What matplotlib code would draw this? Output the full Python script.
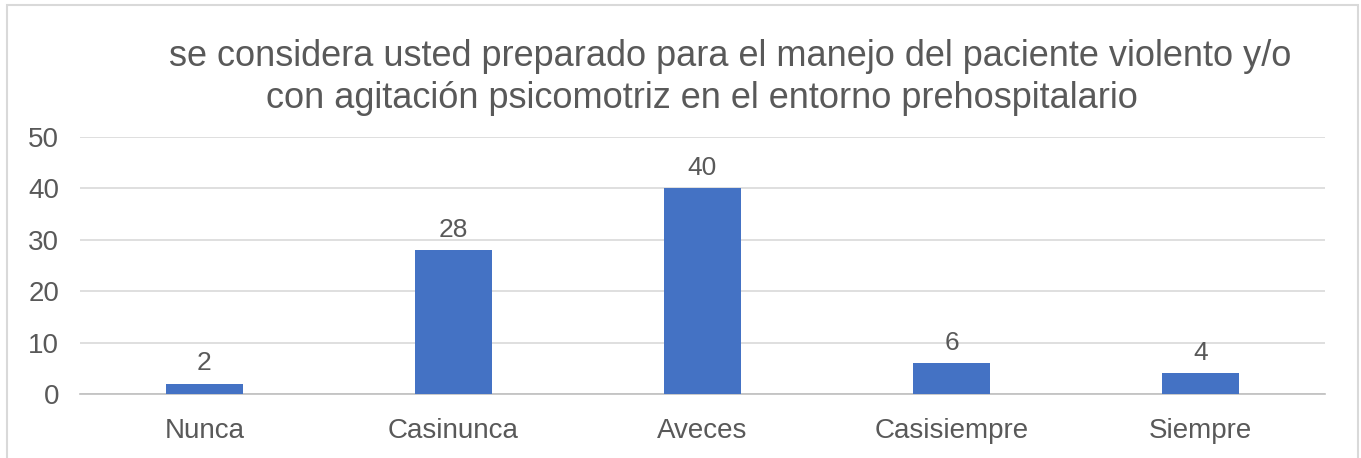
import matplotlib.pyplot as plt
from matplotlib.patches import Rectangle

categories = ['Nunca', 'Casinunca', 'Aveces', 'Casisiempre', 'Siempre']
counts = [2, 28, 40, 6, 4]
yticks = [0, 10, 20, 30, 40, 50]
title_lines = ['se considera usted preparado para el manejo del paciente violento y/o',
               'con agitación psicomotriz en el entorno prehospitalario']

plt.rcParams['font.family'] = ['Liberation Sans', 'DejaVu Sans']
text_color = '#595959'
bar_color = '#4472C4'

W, H = 1361, 458
fig = plt.figure(figsize=(W / 100, H / 100), dpi=100)

# thin gray frame round the chart area
fig.add_artist(Rectangle((7 / W, -0.05), (1358 - 7) / W, 1.05 - 5 / H,
                         transform=fig.transFigure, fill=False,
                         edgecolor='#d9d9d9', linewidth=1.5))

ax = fig.add_axes([80 / W, (H - 394) / H, 1245 / W, (394 - 137) / H])
x = range(len(categories))
bars = ax.bar(x, counts, width=0.31, color=bar_color, zorder=3)

for rect, v in zip(bars, counts):
    ax.annotate(str(v), (rect.get_x() + rect.get_width() / 2, v),
                xytext=(0, 6), textcoords='offset points',
                ha='center', va='bottom', fontsize=19, color=text_color)

ax.set_xlim(-0.5, len(categories) - 0.5)
ax.set_ylim(0, 50)
ax.set_yticks(yticks)
ax.set_xticks(list(x))
ax.set_xticklabels(categories)
ax.yaxis.grid(True, color='#d9d9d9', linewidth=1.2, zorder=0)
ax.set_axisbelow(True)
for s in ['top', 'right', 'left']:
    ax.spines[s].set_visible(False)
ax.spines['bottom'].set_color('#bfbfbf')
ax.spines['bottom'].set_linewidth(1.2)
ax.tick_params(axis='both', length=0, labelcolor=text_color)
ax.tick_params(axis='x', pad=17, labelsize=20)
ax.tick_params(axis='y', pad=15, labelsize=20)

fig.text(730 / W, 1 - 57 / H, title_lines[0], ha='center', va='center',
         fontsize=26, color=text_color)
fig.text(702 / W, 1 - 99 / H, title_lines[1], ha='center', va='center',
         fontsize=26, color=text_color)

fig.savefig('out.png', dpi=100, facecolor='white')
